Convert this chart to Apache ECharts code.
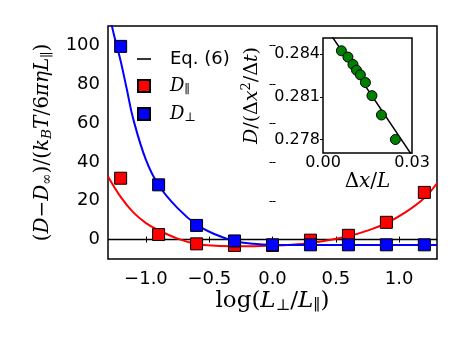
<!DOCTYPE html>
<html>
<head>
<meta charset="utf-8">
<script src="https://cdn.jsdelivr.net/npm/echarts@6/dist/echarts.min.js"></script>
<style>
  html, body { margin: 0; padding: 0; background: #fff; }
  #main { width: 463px; height: 348px; }
</style>
</head>
<body>
<div id="main"></div>
<script>
// measured points (main panel)
const xPos = [-1.2, -0.9, -0.6, -0.3, 0, 0.3, 0.6, 0.9, 1.2];
const dPar = [31.6, 2.6, -2.2, -3.0, -3.0, -0.3, 2.2, 8.9, 24.3];
const dPerp = [99.5, 28.2, 7.3, -0.7, -2.7, -2.7, -2.7, -2.7, -2.7];

// Eq. (6) curves
const parFitX = [-1.3, -1.2, -1.1, -1.0, -0.9, -0.75, -0.6, -0.45, -0.3, -0.15, 0, 0.15, 0.3, 0.45, 0.6, 0.75, 0.9, 1.05, 1.2, 1.3];
const parFitY = [32.5, 22, 14, 8.5, 4.8, 0.5, -2.3, -3.2, -3.4, -3.4, -3.1, -2.6, -1.7, -0.2, 1.7, 4.6, 8.5, 14, 21.4, 29];
const perpFitX = [-1.28, -1.24, -1.2, -1.15, -1.1, -1.0, -0.9, -0.75, -0.6, -0.45, -0.3, -0.15, 0, 0.3, 0.6, 0.9, 1.3];
const perpFitY = [113, 102, 92, 77, 62, 41, 28, 16.2, 7.7, 2.6, -0.8, -2.2, -2.7, -2.8, -2.8, -2.8, -2.8];

const xTicks = [-1, -0.5, 0, 0.5, 1];
const yTicks = [0, 20, 40, 60, 80, 100];

// inset
const dxL = [0.0062, 0.0084, 0.0101, 0.0113, 0.0126, 0.0143, 0.0165, 0.0197, 0.0244];
const dRatio = [0.28423, 0.28379, 0.28327, 0.28287, 0.28254, 0.2820, 0.28108, 0.27972, 0.2780];
const insetFitX = [0, 0.03];
const insetFitY = [0.28618, 0.27688];
const insetXTicks = [0, 0.03];
const insetYTicks = [0.278, 0.281, 0.284];

const zip = (a, b) => a.map((v, i) => [v, b[i]]);

const serif = 'DejaVu Serif';
const sans = 'DejaVu Sans';
function mathRich(size) {
  const base = { color: '#000', fontFamily: serif };
  const sub = size * 0.68;
  return {
    r: Object.assign({ fontSize: size }, base),
    i: Object.assign({ fontSize: size, fontStyle: 'italic' }, base),
    s: Object.assign({ fontSize: sub, fontStyle: 'italic', padding: [size * 0.45, 0, 0, 0] }, base),
    sr: Object.assign({ fontSize: sub, padding: [size * 0.45, 0, 0, 0] }, base),
    sup: Object.assign({ fontSize: sub, padding: [0, 0, size * 0.5, 0] }, base)
  };
}

const chart = echarts.init(document.getElementById('main'), null, { renderer: 'canvas' });

const frameAxis = {
  axisLine: { show: false },
  splitLine: { show: false },
  nameMoveOverlap: false,
  axisTick: { show: true, length: 3, lineStyle: { color: '#000', width: 1 } }
};

chart.setOption({
  animation: false,
  backgroundColor: '#fff',
  grid: [
    { left: 108, top: 26, width: 329, height: 233, show: true, borderColor: '#000', borderWidth: 1.5, backgroundColor: '#fff' },
    { left: 323, top: 38, width: 89, height: 115, show: true, borderColor: '#000', borderWidth: 1.5, backgroundColor: '#fff', z: 5 }
  ],
  legend: {
    orient: 'vertical',
    left: 132,
    top: 45,
    itemWidth: 14,
    itemHeight: 12,
    itemGap: 9,
    data: [
      { name: 'Eq. (6)', icon: 'path://M0,0L14,0L14,1.6L0,1.6Z', itemStyle: { color: '#000' } },
      { name: 'Dpar', icon: 'path://M0,0L10,0L10,10L0,10Z' },
      { name: 'Dperp', icon: 'path://M0,0L10,0L10,10L0,10Z' }
    ],
    formatter: function (name) {
      if (name === 'Dpar') return '{i|D}{sr|∥}';
      if (name === 'Dperp') return '{i|D}{sr|⊥}';
      return '{t|' + name + '}';
    },
    textStyle: {
      padding: [0, 0, 0, 14],
      rich: Object.assign({ t: { fontFamily: sans, fontSize: 18, color: '#000' } }, mathRich(18))
    }
  },
  xAxis: [
    Object.assign({}, frameAxis, {
      type: 'value', gridIndex: 0, min: -1.3, max: 1.3, position: 'bottom',
      axisTick: { show: true, length: 3, lineStyle: { color: '#000' }, customValues: xTicks },
      axisLabel: { customValues: xTicks, fontFamily: sans, fontSize: 18, color: '#000', margin: 11,
        formatter: v => (v < 0 ? '\u2212' : '') + Math.abs(v).toFixed(1) },
      name: '{r|log(}{i|L}{sr|⊥}{r|/}{i|L}{sr|∥}{r|)}',
      nameLocation: 'middle', nameGap: 29,
      nameTextStyle: { rich: mathRich(23) }
    }),
    Object.assign({}, frameAxis, {
      type: 'value', gridIndex: 0, min: -1.3, max: 1.3, position: 'top',
      axisTick: { show: true, length: 3, lineStyle: { color: '#000' }, customValues: xTicks },
      axisLabel: { show: false }
    }),
    Object.assign({}, frameAxis, {
      type: 'value', gridIndex: 1, min: 0, max: 0.03, position: 'bottom',
      axisTick: { show: false },
      axisLabel: { customValues: insetXTicks, fontFamily: sans, fontSize: 16, color: '#000', margin: 2,
        formatter: v => v.toFixed(2) },
      name: '{r|Δ}{i|x}{r|/}{i|L}',
      nameLocation: 'middle', nameGap: 19,
      nameTextStyle: { rich: mathRich(20) }
    })
  ],
  yAxis: [
    Object.assign({}, frameAxis, {
      type: 'value', gridIndex: 0, min: -10, max: 110, position: 'left',
      axisTick: { show: true, length: 3, lineStyle: { color: '#000' }, customValues: yTicks },
      axisLabel: { customValues: yTicks, fontFamily: sans, fontSize: 18, color: '#000', margin: 8 },
      name: '{r|(}{i|D}{r|−}{i|D}{sr|∞}{r|)/(}{i|k}{s|B}{i|T}{r|/6}{i|πηL}{sr|∥}{r|)}',
      nameLocation: 'middle', nameGap: 54, nameRotate: 90,
      nameTextStyle: { rich: mathRich(20) }
    }),
    Object.assign({}, frameAxis, {
      type: 'value', gridIndex: 0, min: -10, max: 110, position: 'right',
      axisTick: { show: true, length: 3, lineStyle: { color: '#000' }, customValues: yTicks },
      axisLabel: { show: false }
    }),
    Object.assign({}, frameAxis, {
      type: 'value', gridIndex: 1, min: 0.27705, max: 0.28513, position: 'left',
      axisTick: { show: true, length: 3, lineStyle: { color: '#000' }, customValues: insetYTicks },
      axisLabel: { customValues: insetYTicks, fontFamily: sans, fontSize: 16, color: '#000', margin: 3,
        formatter: v => v.toFixed(3) },
      name: '{i|D}{r|/(Δ}{i|x}{sup|2}{r|/Δ}{i|t}{r|)}',
      nameLocation: 'middle', nameGap: 60, nameRotate: 90,
      nameTextStyle: { rich: mathRich(19) }
    }),
    Object.assign({}, frameAxis, {
      type: 'value', gridIndex: 1, min: 0.27705, max: 0.28513, position: 'right',
      axisTick: { show: true, inside: true, length: 3, lineStyle: { color: '#000' }, customValues: insetYTicks },
      axisLabel: { show: false }
    })
  ],
  series: [
    {
      name: 'Eq. (6)', type: 'line', xAxisIndex: 0, yAxisIndex: 0,
      data: [[-1.3, 0], [1.3, 0]], showSymbol: false, symbol: 'none',
      lineStyle: { color: '#000', width: 1.5 }, itemStyle: { color: '#000' }, z: 2
    },
    {
      name: 'parFit', type: 'line', xAxisIndex: 0, yAxisIndex: 0,
      data: zip(parFitX, parFitY), smooth: 0.4, symbol: 'none',
      lineStyle: { color: '#ff0000', width: 2 }, clip: true, z: 3
    },
    {
      name: 'perpFit', type: 'line', xAxisIndex: 0, yAxisIndex: 0,
      data: zip(perpFitX, perpFitY), smooth: 0.4, symbol: 'none',
      lineStyle: { color: '#0000ff', width: 2 }, clip: true, z: 3
    },
    {
      name: 'Dpar', type: 'scatter', xAxisIndex: 0, yAxisIndex: 0,
      data: zip(xPos, dPar), symbol: 'rect', symbolSize: 12,
      itemStyle: { color: '#ff0000', borderColor: '#000', borderWidth: 1, opacity: 1 }, z: 4
    },
    {
      name: 'Dperp', type: 'scatter', xAxisIndex: 0, yAxisIndex: 0,
      data: zip(xPos, dPerp), symbol: 'rect', symbolSize: 12,
      itemStyle: { color: '#0000ff', borderColor: '#000', borderWidth: 1, opacity: 1 }, z: 4
    },
    {
      name: 'insetFit', type: 'line', xAxisIndex: 2, yAxisIndex: 2,
      data: zip(insetFitX, insetFitY), symbol: 'none', clip: true,
      lineStyle: { color: '#000', width: 1.5 }, z: 6
    },
    {
      name: 'insetPts', type: 'scatter', xAxisIndex: 2, yAxisIndex: 2,
      data: zip(dxL, dRatio), symbol: 'circle', symbolSize: 10,
      itemStyle: { color: '#008000', borderColor: '#000', borderWidth: 1, opacity: 1 }, z: 7
    }
  ]
});
</script>
</body>
</html>
